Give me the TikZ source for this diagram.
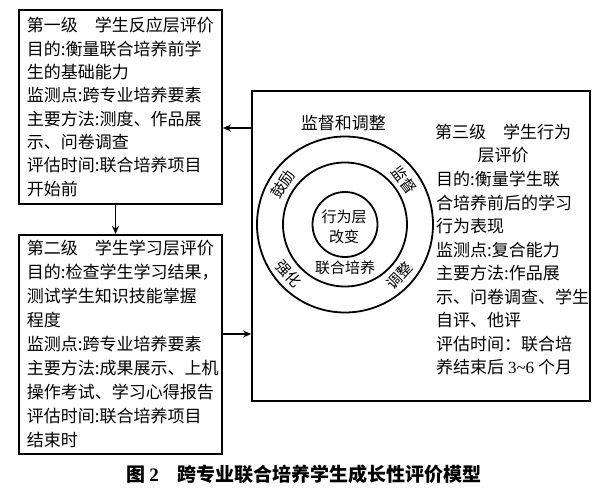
\documentclass[tikz,border=0pt]{standalone}
\usepackage{fontspec}
\setmainfont{Noto Sans CJK SC}
\newfontfamily\latinfont{Liberation Serif}
\usetikzlibrary{positioning, arrows.meta}

\begin{document}
\begin{tikzpicture}[x=1pt, y=-1pt, node distance=29pt,
	levelbox/.style={draw, line width=1.8pt, minimum width=203pt, text width=187pt, inner xsep=8pt, inner ysep=3pt, align=left, font=\fontsize{17}{23.3}\selectfont},
	ring/.style={draw, circle, line width=1.8pt, inner sep=0pt},
	ringlabel/.style={inner sep=0pt, font=\fontsize{15}{20.6}\selectfont, align=center},
	flow/.style={-{Stealth[length=8pt, width=7pt]}, line width=1.3pt}]
	\useasboundingbox (0,0) rectangle (600,488);

		% nodes - the three levels %
		\node[levelbox, minimum height=194pt] (lvla) at (120.5,107) {第一级　学生反应层评价\\目的:衡量联合培养前学\\生的基础能力\\监测点:跨专业培养要素\\主要方法:测度、作品展\\示、问卷调查\\评估时间:联合培养项目\\开始前};
		\node[levelbox, minimum height=219pt, below = of lvla, font=\fontsize{17}{24}\selectfont] (lvlb) {第二级　学生学习层评价\\目的:检查学生学习结果，\\测试学生知识技能掌握\\程度\\监测点:跨专业培养要素\\主要方法:成果展示、上机\\操作考试、学习心得报告\\评估时间:联合培养项目\\结束时};
		\node[draw, line width=1.8pt, minimum width=338pt, minimum height=310pt] (lvlc) at (421,246) {};

		% nodes - rings inside the third level %
		\coordinate (hub) at (345,224.5);
		\node[ring, minimum size=176pt] (ringout) at (hub) {};
		\node[ring, minimum size=124pt] (ringmid) at (hub) {};
		\node[ring, minimum size=65pt] (ringin) at (hub) {};
		\node[ringlabel, font=\fontsize{17}{17}\selectfont] (watch) at (343.3,123.3) {监督和调整};
		\node[ringlabel] (core) at (344,227) {行为层\\改变};
		\node[ringlabel] (joint) at (345,267.3) {联合培养};
		\node[ringlabel, rotate=57] (cheer) at (282.5,184) {鼓励};
		\node[ringlabel, rotate=-53] (oversee) at (404.5,180) {监督};
		\node[ringlabel, rotate=-48] (boost) at (288.8,274.2) {强化};
		\node[ringlabel, rotate=47] (tune) at (399.5,276) {调整};

		% nodes - text of the third level %
		\node[align=center, inner sep=0pt, font=\fontsize{17}{23.5}\selectfont] (titlec) at (503,143.5) {第三级　学生行为\\层评价};
		\node[align=left, inner sep=0pt, anchor=north west, font=\fontsize{17}{23.5}\selectfont] (infoc) at (436,171) {目的:衡量学生联\\合培养前后的学习\\行为表现\\监测点:复合能力\\主要方法:作品展\\示、问卷调查、学生\\自评、他评\\评估时间：联合培\\养结束后 {\latinfont 3\textasciitilde6} 个月};

		% caption %
		\node[font=\fontsize{19}{19}\selectfont\bfseries] (cap) at (304,474) {图 {\latinfont 2}　跨专业联合培养学生成长性评价模型};

		% edges %
		\coordinate (backa) at (237,128);
		\coordinate (forwb) at (237,334);
		\draw[flow] (lvlc.west |- backa) -- (lvla.east |- backa);
		\draw[flow] ([xshift=-5pt]lvla.south) -- ([xshift=-5pt]lvlb.north);
		\draw[flow] (lvlb.east |- forwb) -- (lvlc.west |- forwb);

\end{tikzpicture}
\end{document}
